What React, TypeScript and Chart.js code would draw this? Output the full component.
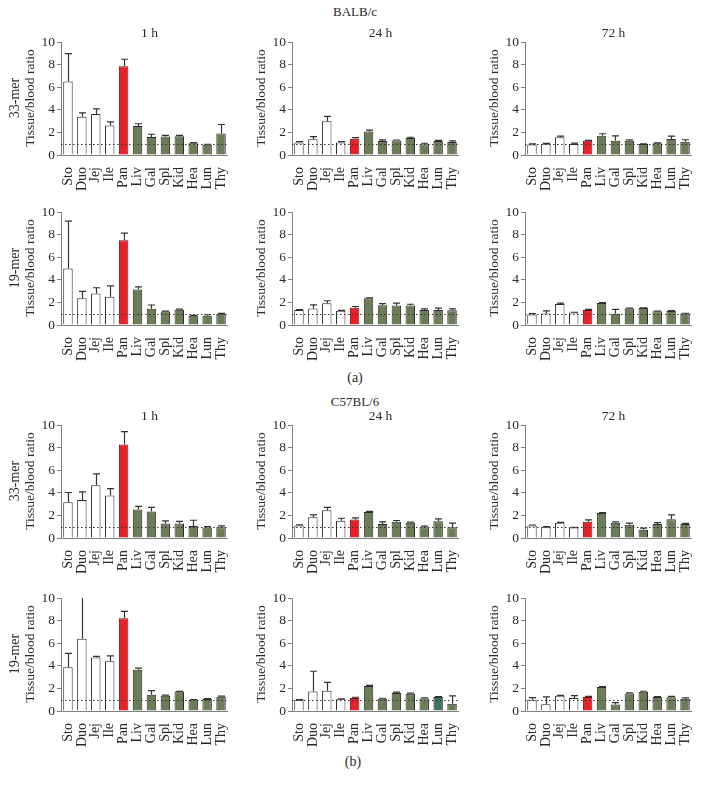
import React, { useEffect, useRef } from "react";
import { Chart, registerables } from "chart.js";
Chart.register(...registerables);

const organs = ["Sto", "Duo", "Jej", "Ile", "Pan", "Liv", "Gal", "Spl", "Kid", "Hea", "Lun", "Thy"];
const yTicks = [0, 2, 4, 6, 8, 10];
const refValue = 1;

// BALB/c, 33-mer
const balb33h1 = [6.5, 3.38, 3.64, 2.62, 7.87, 2.57, 1.6, 1.63, 1.66, 1.05, 0.9, 1.9];
const balb33h1Err = [2.48, 0.35, 0.44, 0.32, 0.61, 0.2, 0.24, 0.1, 0.08, 0.05, 0.05, 0.8];
const balb33h24 = [1.1, 1.39, 2.99, 1.1, 1.45, 2.09, 1.25, 1.28, 1.51, 0.96, 1.25, 1.16];
const balb33h24Err = [0.08, 0.23, 0.43, 0.09, 0.09, 0.11, 0.09, 0.05, 0.06, 0.08, 0.05, 0.09];
const balb33h72 = [0.94, 1.0, 1.58, 0.97, 1.26, 1.7, 1.26, 1.26, 0.97, 1.03, 1.41, 1.17];
const balb33h72Err = [0.05, 0.03, 0.1, 0.08, 0.03, 0.18, 0.44, 0.08, 0.02, 0.05, 0.26, 0.18];
// BALB/c, 19-mer
const balb19h1 = [5.0, 2.37, 2.8, 2.51, 7.51, 3.14, 1.43, 1.2, 1.34, 0.83, 0.83, 1.0];
const balb19h1Err = [4.2, 0.6, 0.5, 0.95, 0.63, 0.23, 0.34, 0.03, 0.06, 0.02, 0.08, 0.03];
const balb19h24 = [1.33, 1.47, 1.93, 1.27, 1.53, 2.38, 1.76, 1.73, 1.73, 1.33, 1.33, 1.3];
const balb19h24Err = [0.03, 0.31, 0.22, 0.03, 0.11, 0.03, 0.14, 0.2, 0.11, 0.09, 0.17, 0.12];
const balb19h72 = [0.93, 1.02, 1.87, 1.1, 1.33, 1.95, 0.99, 1.47, 1.5, 1.22, 1.25, 1.02];
const balb19h72Err = [0.09, 0.23, 0.06, 0.03, 0.06, 0.03, 0.4, 0.03, 0.02, 0.02, 0.02, 0.02];
// C57BL/6, 33-mer
const c5733h1 = [3.16, 3.36, 4.67, 3.77, 8.29, 2.52, 2.35, 1.28, 1.28, 1.07, 0.93, 0.96];
const c5733h1Err = [0.87, 0.73, 1.01, 0.61, 1.13, 0.29, 0.37, 0.23, 0.2, 0.5, 0.08, 0.11];
const c5733h24 = [1.11, 1.84, 2.45, 1.52, 1.63, 2.3, 1.25, 1.43, 1.34, 0.96, 1.49, 0.96];
const c5733h24Err = [0.06, 0.2, 0.26, 0.23, 0.15, 0.05, 0.18, 0.12, 0.06, 0.09, 0.2, 0.35];
const c5733h72 = [1.11, 0.96, 1.34, 0.93, 1.43, 2.22, 1.34, 1.17, 0.73, 1.25, 1.66, 1.25];
const c5733h72Err = [0.04, 0.05, 0.05, 0.02, 0.17, 0.03, 0.09, 0.14, 0.14, 0.12, 0.38, 0.05];
// C57BL/6, 19-mer
const c5719h1 = [3.88, 6.41, 4.74, 4.4, 8.22, 3.65, 1.44, 1.35, 1.72, 1.0, 1.06, 1.26];
const c5719h1Err = [1.23, 4.5, 0.09, 0.49, 0.6, 0.14, 0.37, 0.06, 0.02, 0.02, 0.03, 0.06];
const c5719h24 = [0.99, 1.73, 1.79, 1.05, 1.16, 2.22, 1.08, 1.59, 1.53, 1.11, 1.25, 0.65];
const c5719h24Err = [0.01, 1.79, 0.74, 0.02, 0.06, 0.05, 0.05, 0.08, 0.05, 0.05, 0.02, 0.69];
const c5719h72 = [0.99, 0.6, 1.34, 1.16, 1.25, 2.13, 0.57, 1.56, 1.7, 1.25, 1.22, 1.08];
const c5719h72Err = [0.2, 0.65, 0.05, 0.2, 0.05, 0.03, 0.17, 0.05, 0.05, 0.02, 0.08, 0.08];

const FONT = "'Liberation Serif', 'Times New Roman', serif";
const WHITE = "#ffffff";
const RED = "#e8202a";
const GREEN = "#6b7d57";
const TEAL = "#3f7260";
const AXIS = "#808080";
const INK = "#2a2a2a";

const baseColors = organs.map((_, i) => (i < 4 ? WHITE : i === 4 ? RED : GREEN));
const tealLungColors = baseColors.map((c, i) => (i === 10 ? TEAL : c));

const Y_AXIS_W = 30;
const PLOT_W = 177;
const PLOT_H = 115;
const PAD_TOP = 8;
const PAD_RIGHT = 4;
const X_AXIS_H = 48;
const CANVAS_W = Y_AXIS_W + PLOT_W + PAD_RIGHT;
const CANVAS_H = PAD_TOP + PLOT_H + X_AXIS_H;

const errorBarPlugin = {
  id: "errorBars",
  afterDatasetsDraw(chart: any) {
    const errs: number[] = chart.options.plugins.errorBars?.errors || [];
    const meta = chart.getDatasetMeta(0);
    const yScale = chart.scales.y;
    const area = chart.chartArea;
    const vals = chart.data.datasets[0].data as number[];
    const ctx = chart.ctx;
    ctx.save();
    ctx.strokeStyle = "#333333";
    ctx.lineWidth = 1.2;
    meta.data.forEach((bar: any, i: number) => {
      const e = errs[i];
      if (!e) return;
      const x = Math.round(bar.x) + 0.5;
      const y0 = yScale.getPixelForValue(vals[i]);
      let y1 = yScale.getPixelForValue(vals[i] + e);
      const clipped = y1 < area.top;
      if (clipped) y1 = area.top;
      ctx.beginPath();
      ctx.moveTo(x, y0);
      ctx.lineTo(x, y1);
      if (!clipped) {
        ctx.moveTo(x - 3.5, y1);
        ctx.lineTo(x + 3.5, y1);
      }
      ctx.stroke();
    });
    ctx.restore();
  },
};

const refLinePlugin = {
  id: "refLine",
  afterDatasetsDraw(chart: any) {
    const area = chart.chartArea;
    const y = Math.round(chart.scales.y.getPixelForValue(refValue)) + 0.5;
    const ctx = chart.ctx;
    ctx.save();
    ctx.strokeStyle = "#333333";
    ctx.lineWidth = 1;
    ctx.setLineDash([1.5, 2.5]);
    ctx.beginPath();
    ctx.moveTo(area.left, y);
    ctx.lineTo(area.right, y);
    ctx.stroke();
    ctx.restore();
  },
};

type PanelProps = { left: number; top: number; values: number[]; errors: number[]; colors: string[] };

function Panel({ left, top, values, errors, colors }: PanelProps) {
  const ref = useRef<HTMLCanvasElement | null>(null);
  useEffect(() => {
    if (!ref.current) return;
    const chart = new Chart(ref.current, {
      type: "bar",
      data: {
        labels: organs,
        datasets: [
          {
            data: values,
            backgroundColor: colors,
            borderColor: colors.map((c) => (c === RED ? "#6e1414" : "#2b2b2b")),
            borderWidth: 1,
            barPercentage: 0.68,
            categoryPercentage: 1,
          },
        ],
      },
      options: {
        animation: false,
        responsive: false,
        devicePixelRatio: 1,
        events: [],
        layout: { padding: { top: PAD_TOP, right: PAD_RIGHT, left: 0, bottom: 0 } },
        plugins: {
          legend: { display: false },
          tooltip: { enabled: false },
          errorBars: { errors },
        } as any,
        scales: {
          x: {
            grid: { display: false },
            border: { display: true, color: AXIS, width: 1 },
            ticks: {
              minRotation: 90,
              maxRotation: 90,
              autoSkip: false,
              color: INK,
              padding: 4,
              font: { family: FONT, size: 14 },
            },
            afterFit: (s: any) => {
              s.height = X_AXIS_H;
            },
          },
          y: {
            min: 0,
            max: 10,
            afterBuildTicks: (s: any) => {
              s.ticks = yTicks.map((v) => ({ value: v }));
            },
            grid: { drawOnChartArea: false, drawTicks: true, tickLength: 4, color: AXIS },
            border: { display: true, color: AXIS, width: 1 },
            ticks: { color: INK, padding: 2, font: { family: FONT, size: 13.5 } },
            afterFit: (s: any) => {
              s.width = Y_AXIS_W;
            },
          },
        },
      },
      plugins: [errorBarPlugin, refLinePlugin],
    });
    return () => chart.destroy();
  }, []);
  return (
    <canvas
      ref={ref}
      width={CANVAS_W}
      height={CANVAS_H}
      style={{ position: "absolute", left: left - Y_AXIS_W, top: top - PAD_TOP, width: CANVAS_W, height: CANVAS_H }}
    />
  );
}

function Label({ x, y, text, rotate, size }: { x: number; y: number; text: string; rotate?: boolean; size?: number }) {
  return (
    <div
      style={{
        position: "absolute",
        left: x,
        top: y,
        transform: `translate(-50%, -50%)${rotate ? " rotate(-90deg)" : ""}`,
        whiteSpace: "nowrap",
        fontFamily: FONT,
        fontSize: size || 13.5,
        color: INK,
        lineHeight: 1,
      }}
    >
      {text}
    </div>
  );
}

const colX = [61, 292, 525];
const rowTop = [40, 210, 423, 596];
const times = ["1 h", "24 h", "72 h"];

export default function App() {
  const panels: { v: number[]; e: number[]; c: string[] }[][] = [
    [
      { v: balb33h1, e: balb33h1Err, c: baseColors },
      { v: balb33h24, e: balb33h24Err, c: baseColors },
      { v: balb33h72, e: balb33h72Err, c: baseColors },
    ],
    [
      { v: balb19h1, e: balb19h1Err, c: baseColors },
      { v: balb19h24, e: balb19h24Err, c: baseColors },
      { v: balb19h72, e: balb19h72Err, c: baseColors },
    ],
    [
      { v: c5733h1, e: c5733h1Err, c: baseColors },
      { v: c5733h24, e: c5733h24Err, c: baseColors },
      { v: c5733h72, e: c5733h72Err, c: baseColors },
    ],
    [
      { v: c5719h1, e: c5719h1Err, c: baseColors },
      { v: c5719h24, e: c5719h24Err, c: tealLungColors },
      { v: c5719h72, e: c5719h72Err, c: baseColors },
    ],
  ];
  const rowNames = ["33-mer", "19-mer", "33-mer", "19-mer"];
  return (
    <div style={{ position: "fixed", left: 0, top: 0, width: 711, height: 788, background: "#fff", overflow: "hidden" }}>
      <Label x={355} y={11} text="BALB/c" size={13} />
      <Label x={355} y={378} text="(a)" size={14} />
      <Label x={355} y={401} text="C57BL/6" size={13} />
      <Label x={353} y={762} text="(b)" size={14} />
      {panels.map((row, r) =>
        row.map((p, c) => (
          <Panel key={`${r}-${c}`} left={colX[c]} top={rowTop[r]} values={p.v} errors={p.e} colors={p.c} />
        ))
      )}
      {[0, 2].map((r) =>
        times.map((t, c) => (
          <Label key={`t${r}${c}`} x={colX[c] + PLOT_W / 2} y={rowTop[r] - 7} text={t} size={13.5} />
        ))
      )}
      {rowTop.map((t, r) =>
        colX.map((x, c) => (
          <Label key={`y${r}${c}`} x={x - 31} y={t + PLOT_H / 2} text="Tissue/blood ratio" rotate size={13.5} />
        ))
      )}
      {rowTop.map((t, r) => (
        <Label key={`n${r}`} x={15} y={t + PLOT_H / 2} text={rowNames[r]} rotate size={14} />
      ))}
    </div>
  );
}
